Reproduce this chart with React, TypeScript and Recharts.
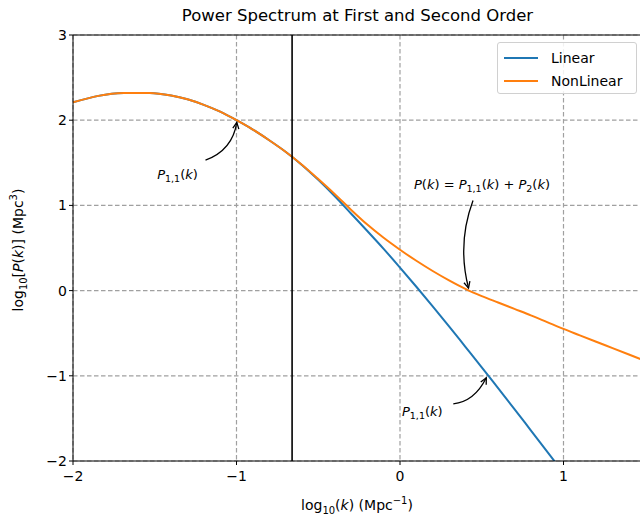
import React from "react";
import {
  LineChart,
  Line,
  XAxis,
  YAxis,
  CartesianGrid,
  ReferenceLine,
  ReferenceDot,
  Label,
} from "recharts";

const logK = [-2.0, -1.69, -1.53, -1.4, -1.3, -1.2, -1.1, -1.0, -0.9, -0.8, -0.7, -0.6, -0.5, -0.4, -0.3, -0.2, -0.1, 0.0, 0.1, 0.2, 0.3, 0.4, 0.5, 0.6, 0.7, 0.8, 0.9, 1.0, 1.1, 1.2, 1.3, 1.4, 1.5];
const linearP = [2.21, 2.32, 2.32, 2.29, 2.245, 2.18, 2.1, 2.0, 1.89, 1.765, 1.63, 1.475, 1.3, 1.11, 0.905, 0.7, 0.49, 0.27, 0.045, -0.185, -0.42, -0.66, -0.9, -1.145, -1.39, -1.64, -1.89, -2.14, null, null, null, null, null];
const nonLinearP = [2.21, 2.32, 2.32, 2.29, 2.245, 2.18, 2.1, 2.0, 1.89, 1.765, 1.63, 1.478, 1.31, 1.135, 0.95, 0.775, 0.62, 0.48, 0.35, 0.23, 0.12, 0.02, -0.065, -0.14, -0.215, -0.29, -0.37, -0.45, -0.525, -0.6, -0.675, -0.75, -0.825];
const xTicks = [-2, -1, 0, 1];
const yTicks = [-2, -1, 0, 1, 2, 3];
const scaleLine = -0.66;
const ann1 = { x: -1, y: 2 };
const ann2 = { x: 0.416, y: 0 };
const ann3 = { x: 0.54, y: -1 };
const seriesNames = ["Linear", "NonLinear"];
const seriesColors = ["#1f77b4", "#ff7f0e"];

const data = logK.map((x, i) => ({ x, linear: linearP[i], nonlinear: nonLinearP[i] }));

const FONT = "DejaVu Sans";
const fmt = (v: number) => (v < 0 ? "\u2212" + Math.abs(v) : String(v));

function arrowShape(
  tail: [number, number],
  ctrl: [number, number],
  tip: [number, number],
  text: React.ReactNode,
  textPos: [number, number]
) {
  return (props: any) => {
    const { cx, cy } = props;
    const tx = cx + tail[0], ty = cy + tail[1];
    const qx = cx + ctrl[0], qy = cy + ctrl[1];
    const hx = cx + tip[0], hy = cy + tip[1];
    const ang = Math.atan2(hy - qy, hx - qx);
    const L = 7, W = 0.45;
    const a1x = hx - L * Math.cos(ang - W), a1y = hy - L * Math.sin(ang - W);
    const a2x = hx - L * Math.cos(ang + W), a2y = hy - L * Math.sin(ang + W);
    return (
      <g>
        <path d={`M${tx},${ty} Q${qx},${qy} ${hx},${hy}`} fill="none" stroke="#000" strokeWidth={1.3} />
        <path d={`M${a1x},${a1y} L${hx},${hy} L${a2x},${a2y}`} fill="none" stroke="#000" strokeWidth={1.3} />
        <text x={cx + textPos[0]} y={cy + textPos[1]} textAnchor="middle" fontFamily={FONT} fontSize={13} fill="#000">
          {text}
        </text>
      </g>
    );
  };
}

const P11 = (
  <>
    <tspan fontStyle="italic">P</tspan>
    <tspan fontSize={9.5} dy={3}>1,1</tspan>
    <tspan dy={-3}>(</tspan>
    <tspan fontStyle="italic">k</tspan>
    <tspan>)</tspan>
  </>
);
const Pfull = (
  <>
    <tspan fontStyle="italic">P</tspan>
    <tspan>(</tspan>
    <tspan fontStyle="italic">k</tspan>
    <tspan>) = </tspan>
    <tspan fontStyle="italic">P</tspan>
    <tspan fontSize={9.5} dy={3}>1,1</tspan>
    <tspan dy={-3}>(</tspan>
    <tspan fontStyle="italic">k</tspan>
    <tspan>) + </tspan>
    <tspan fontStyle="italic">P</tspan>
    <tspan fontSize={9.5} dy={3}>2</tspan>
    <tspan dy={-3}>(</tspan>
    <tspan fontStyle="italic">k</tspan>
    <tspan>)</tspan>
  </>
);

const LegendBox = () => (
  <div
    style={{
      position: "absolute",
      left: 497,
      top: 42,
      width: 140,
      height: 52,
      border: "1px solid #d0d0d0",
      borderRadius: 3,
      background: "rgba(255,255,255,0.85)",
      fontFamily: FONT,
      fontSize: 14,
      color: "#000",
      boxSizing: "border-box",
      paddingTop: 3,
    }}
  >
    {seriesNames.map((n, i) => (
      <div key={n} style={{ display: "flex", alignItems: "center", height: 23 }}>
        <div style={{ width: 34, height: 2, background: seriesColors[i], marginLeft: 6, marginRight: 13 }} />
        <span>{n}</span>
      </div>
    ))}
  </div>
);

export default function App() {
  return (
    <div style={{ position: "fixed", left: 0, top: 0, width: 640, height: 516, overflow: "hidden", background: "#fff" }}>
      <div
        style={{
          position: "absolute",
          left: 0,
          width: 715,
          top: 6,
          textAlign: "center",
          fontFamily: FONT,
          fontSize: 16.5,
          color: "#000",
        }}
      >
        Power Spectrum at First and Second Order
      </div>
      <LineChart width={660} height={516} data={data} margin={{ top: 35, right: 14.75, bottom: 0, left: 0 }}>
        <CartesianGrid stroke="#a0a0a0" strokeWidth={1.2} strokeDasharray="4.5 2.5" />
        <XAxis
          dataKey="x"
          type="number"
          domain={[-2, 1.5]}
          ticks={xTicks}
          allowDataOverflow
          height={55}
          axisLine={{ stroke: "#000", strokeWidth: 1 }}
          tickLine={{ stroke: "#000" }}
          tickSize={4}
          tickFormatter={fmt}
          tick={{ fontFamily: FONT, fontSize: 14, fill: "#000", dy: 4 }}
        >
          <Label
            content={() => (
              <text x={357} y={510} textAnchor="middle" fontFamily={FONT} fontSize={14} fill="#000">
                <tspan>log</tspan>
                <tspan fontSize={10} dy={4}>10</tspan>
                <tspan dy={-4}>(</tspan>
                <tspan fontStyle="italic">k</tspan>
                <tspan>) (Mpc</tspan>
                <tspan fontSize={10} dy={-6}>{"\u22121"}</tspan>
                <tspan dy={6}>)</tspan>
              </text>
            )}
          />
        </XAxis>
        <YAxis
          type="number"
          domain={[-2, 3]}
          ticks={yTicks}
          allowDataOverflow
          width={73}
          axisLine={{ stroke: "#000", strokeWidth: 1 }}
          tickLine={{ stroke: "#000" }}
          tickSize={4}
          tickFormatter={fmt}
          tick={{ fontFamily: FONT, fontSize: 14, fill: "#000" }}
        >
          <Label
            content={() => (
              <text
                x={0}
                y={0}
                transform="translate(23,250) rotate(-90)"
                textAnchor="middle"
                fontFamily={FONT}
                fontSize={14}
                fill="#000"
              >
                <tspan>log</tspan>
                <tspan fontSize={10} dy={4}>10</tspan>
                <tspan dy={-4}>[</tspan>
                <tspan fontStyle="italic">P</tspan>
                <tspan>(</tspan>
                <tspan fontStyle="italic">k</tspan>
                <tspan>)] (Mpc</tspan>
                <tspan fontSize={10} dy={-6}>3</tspan>
                <tspan dy={6}>)</tspan>
              </text>
            )}
          />
        </YAxis>
        <ReferenceLine y={3} stroke="#000" strokeWidth={1} ifOverflow="visible" />
        <Line
          type="monotone"
          dataKey="linear"
          stroke={seriesColors[0]}
          strokeWidth={2}
          dot={false}
          isAnimationActive={false}
          name={seriesNames[0]}
        />
        <Line
          type="monotone"
          dataKey="nonlinear"
          stroke={seriesColors[1]}
          strokeWidth={2}
          dot={false}
          isAnimationActive={false}
          name={seriesNames[1]}
        />
        <ReferenceLine x={scaleLine} stroke="#000" strokeWidth={1.6} />
        <ReferenceDot
          x={ann1.x}
          y={ann1.y}
          r={0}
          shape={arrowShape([-31, 40], [-4, 30], [0.3, 2.2], P11, [-59, 59])}
        />
        <ReferenceDot
          x={ann2.x}
          y={ann2.y}
          r={0}
          shape={arrowShape([5, -90], [-11, -47], [0.5, -2.5], Pfull, [14, -102])}
        />
        <ReferenceDot
          x={ann3.x}
          y={ann3.y}
          r={0}
          shape={arrowShape([-35, 28], [-14, 26], [-2, 2], P11, [-66, 40])}
        />
      </LineChart>
      <LegendBox />
    </div>
  );
}
